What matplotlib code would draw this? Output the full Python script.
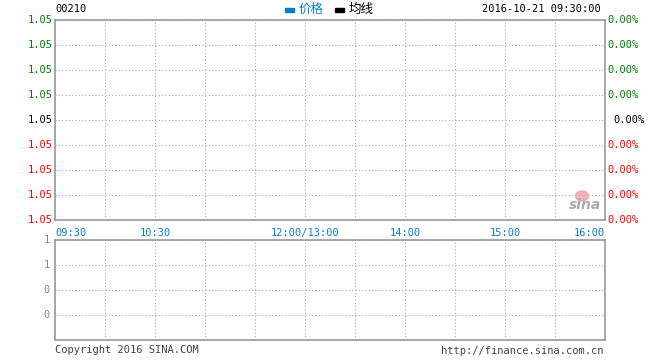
import matplotlib
matplotlib.use('Agg')
import matplotlib.pyplot as plt
from matplotlib.patches import Ellipse

# chart texts and values
code = "00210"
stamp = "2016-10-21 09:30:00"
legend_names = ["价格", "均线"]
legend_colors = ["#0a7ecb", "#000000"]
price_labels = ["1.05"] * 9
pct_labels = ["0.00%"] * 9
vol_labels = ["1", "1", "0", "0"]
time_ticks = [0, 2, 5, 7, 9, 11]
time_labels = ["09:30", "10:30", "12:00/13:00", "14:00", "15:00", "16:00"]
prices = []      # no trades yet
volumes = []

W, H = 660, 360
GREEN, RED, BLUE, GRAY = "#008000", "#ff0000", "#0a7ecb", "#888888"
MONO = "DejaVu Sans Mono"
FS = 7.5


def px_axes(fig, x0, y0, x1, y1):
    return fig.add_axes([x0 / W, 1 - y1 / H, (x1 - x0) / W, (y1 - y0) / H])


def style(ax, nrows):
    ax.set_xlim(0, 11)
    ax.set_ylim(0, nrows)
    ax.set_xticks(range(12))
    ax.set_yticks(range(nrows + 1))
    ax.tick_params(length=0, labelbottom=False, labelleft=False)
    ax.grid(True, color="#aaaaaa", linestyle=(0, (1, 2)), linewidth=0.8)
    for s in ax.spines.values():
        s.set_color("#999999")
        s.set_linewidth(1.2)


def row_color(i, n):
    mid = n // 2
    return GREEN if i < mid else ("#000000" if i == mid else RED)


fig = plt.figure(figsize=(W / 100, H / 100), dpi=100)
fig.patch.set_facecolor("white")

main = px_axes(fig, 55, 20, 605, 220)
style(main, 8)
if prices:
    main.plot(range(len(prices)), prices, color=BLUE)

vol = px_axes(fig, 55, 240, 605, 340)
style(vol, 4)
if volumes:
    vol.bar(range(len(volumes)), volumes, color=GRAY)

n = len(price_labels)
for i, lab in enumerate(price_labels):
    y = n - 1 - i
    main.text(-0.05, y, lab, ha="right", va="center", color=row_color(i, n),
              family=MONO, fontsize=FS, clip_on=False)
for i, lab in enumerate(pct_labels):
    y = n - 1 - i
    xoff = 11.17 if i == n // 2 else 11.05
    main.text(xoff, y, lab, ha="left", va="center", color=row_color(i, n),
              family=MONO, fontsize=FS, clip_on=False)
for t, lab in zip(time_ticks, time_labels):
    ha = "left" if t == 0 else ("right" if t == 11 else "center")
    main.text(t, -0.3, lab, ha=ha, va="top", color=BLUE, family=MONO,
              fontsize=FS, clip_on=False)

for i, lab in enumerate(vol_labels):
    vol.text(-0.1, 4 - i, lab, ha="right", va="center", color=GRAY,
             family=MONO, fontsize=FS, clip_on=False)

# header
fig.text(55 / W, 1 - 9 / H, code, ha="left", va="center", family=MONO, fontsize=FS)
fig.text(601 / W, 1 - 9 / H, stamp, ha="right", va="center", family=MONO, fontsize=FS)
lx = [285, 335]
for x, name, c in zip(lx, legend_names, legend_colors):
    fig.patches.append(plt.Rectangle((x / W, 1 - 12 / H), 9 / W, 4 / H,
                                     transform=fig.transFigure, color=c))
    fig.text((x + 14) / W, 1 - 9 / H, name, ha="left", va="center", color=c,
             family=["Noto Sans CJK SC", "DejaVu Sans"], fontsize=9)

# footer
fig.text(55 / W, 1 - 350 / H, "Copyright 2016 SINA.COM", ha="left", va="center",
         family=MONO, fontsize=FS, color="#444444")
fig.text(604 / W, 1 - 351 / H, "http://finance.sina.com.cn", ha="right", va="center",
         family=MONO, fontsize=FS, color="#444444")

# sina watermark
fig.patches.append(Ellipse((582 / W, 1 - 196 / H), 13 / W, 10 / H,
                           transform=fig.transFigure, color="#f4a0a8", alpha=0.8))
fig.text(585 / W, 1 - 205 / H, "sina", ha="center", va="center", color="#aaaaaa",
         fontsize=10, fontweight="bold", style="italic")

fig.savefig("out.png", dpi=100)
plt.close(fig)
